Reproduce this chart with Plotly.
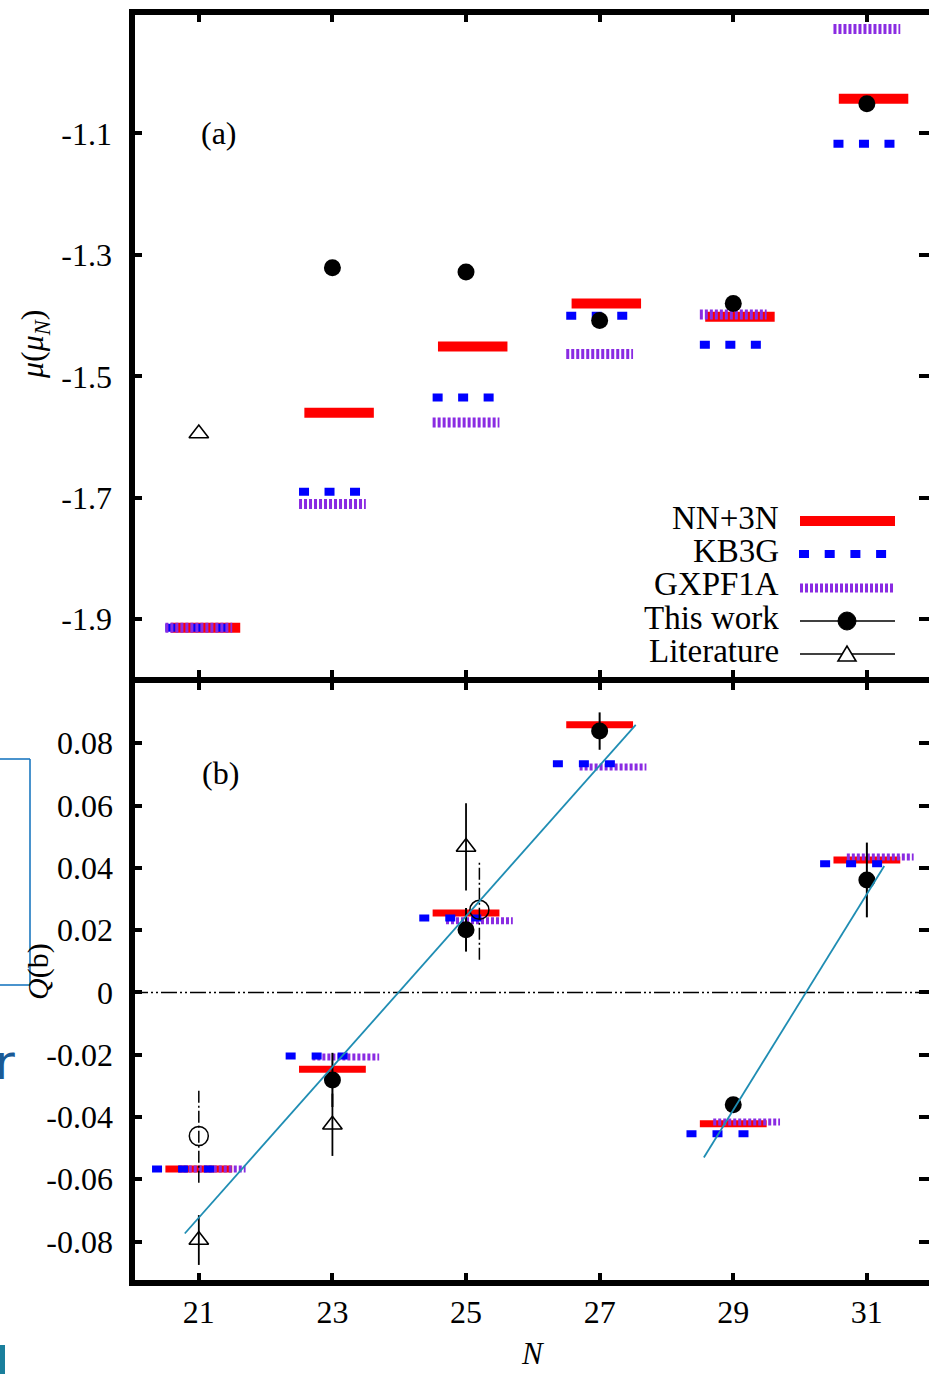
import plotly.graph_objects as go

# ---------------- data ----------------
N = [21, 23, 25, 27, 29, 31]

# panel (a): magnetic moments mu (mu_N)
mu_nn3n = [-1.914, -1.560, -1.451, -1.380, -1.402, -1.043]
mu_kb3g = [-1.914, -1.690, -1.535, -1.400, -1.448, -1.117]
mu_gxpf1a = [-1.914, -1.710, -1.576, -1.463, -1.398, -0.928]
mu_this_N = [23, 25, 27, 29, 31]
mu_this = [-1.321, -1.328, -1.408, -1.380, -1.051]
mu_lit_N = [21]
mu_lit = [-1.594]

# panel (b): quadrupole moments Q (b)
Q_nn3n = [-0.0567, -0.0247, 0.0255, 0.0859, -0.0422, 0.0425]
Q_kb3g = [-0.0567, -0.0204, 0.0239, 0.0734, -0.0454, 0.0413]
Q_gxpf1a = [-0.0567, -0.0207, 0.0230, 0.0724, -0.0416, 0.0435]
Q_this_N = [23, 25, 27, 29, 31]
Q_this = [-0.0281, 0.0201, 0.0839, -0.0361, 0.0361]
Q_this_err = [0.0087, 0.007, 0.006, 0.002, 0.012]
Q_lit_N = [21, 23, 25]
Q_lit = [-0.0795, -0.0425, 0.0467]
Q_lit_err = [0.008, 0.010, 0.014]
Q_alt_N = [21, 25.2]
Q_alt = [-0.0461, 0.0265]
Q_alt_err = [0.015, 0.016]

# hand-drawn straight guide lines over panel (b)
fit1_N = [20.79, 27.54]
fit1_Q = [-0.0774, 0.0859]
fit2_N = [28.56, 31.26]
fit2_Q = [-0.0530, 0.0406]

x_ticks = [21, 23, 25, 27, 29, 31]
x_tick_text = ["21", "23", "25", "27", "29", "31"]
mu_ticks = [-1.9, -1.7, -1.5, -1.3, -1.1]
mu_tick_text = ["-1.9", "-1.7", "-1.5", "-1.3", "-1.1"]
Q_ticks = [-0.08, -0.06, -0.04, -0.02, 0, 0.02, 0.04, 0.06, 0.08]
Q_tick_text = ["-0.08", "-0.06", "-0.04", "-0.02", "0", "0.02", "0.04", "0.06", "0.08"]

legend_labels = ["NN+3N", "KB3G", "GXPF1A", "This work", "Literature"]

# ---------------- geometry / style ----------------
W, H = 929, 1374
ML, MR, MT, MB = 132, 0, 12, 91
PW = W - ML - MR
PH = H - MT - MB
SEP_PX = 680
split = (H - MB - SEP_PX) / PH

FONT = "Liberation Serif, Times New Roman, serif"
RED = "#ff0000"
BLUE = "#0000ff"
PURPLE = "#8a2be2"
TEAL = "#1f8db3"


def px(xp):
    return (xp - ML) / PW


def py(yp):
    return (H - MB - yp) / PH


def segs(xs, ys, lo, hi):
    sx, sy = [], []
    for x, y in zip(xs, ys):
        sx += [x + lo, x + hi, None]
        sy += [y, y, None]
    return sx, sy


def vbars(xs, ys, es):
    sx, sy = [], []
    for x, y, e in zip(xs, ys, es):
        sx += [x, x, None]
        sy += [y - e, y + e, None]
    return sx, sy


fig = go.Figure()

# ---- panel (a) ----
x, y = segs(N, mu_nn3n, -0.42, 0.62)
fig.add_trace(go.Scatter(x=x, y=y, mode="lines", xaxis="x2", yaxis="y2",
                         line=dict(color=RED, width=10), hoverinfo="skip"))
x, y = segs(N, mu_kb3g, -0.5, 0.5)
fig.add_trace(go.Scatter(x=x, y=y, mode="lines", xaxis="x2", yaxis="y2",
                         line=dict(color=BLUE, width=8, dash="10px,15.5px"), hoverinfo="skip"))
x, y = segs(N, mu_gxpf1a, -0.5, 0.5)
fig.add_trace(go.Scatter(x=x, y=y, mode="lines", xaxis="x2", yaxis="y2",
                         line=dict(color=PURPLE, width=10, dash="3px,2px"), hoverinfo="skip"))
fig.add_trace(go.Scatter(x=mu_this_N, y=mu_this, mode="markers", xaxis="x2", yaxis="y2",
                         marker=dict(symbol="circle", size=17, color="black")))
fig.add_trace(go.Scatter(x=mu_lit_N, y=mu_lit, mode="markers", xaxis="x2", yaxis="y2",
                         marker=dict(symbol="triangle-up-open", size=17, color="black",
                                     line=dict(width=1.6, color="black"))))

# ---- panel (b) ----
x, y = segs(N, Q_nn3n, -0.5, 0.5)
fig.add_trace(go.Scatter(x=x, y=y, mode="lines", xaxis="x", yaxis="y",
                         line=dict(color=RED, width=7), hoverinfo="skip"))
x, y = segs(N, Q_gxpf1a, -0.3, 0.7)
fig.add_trace(go.Scatter(x=x, y=y, mode="lines", xaxis="x", yaxis="y",
                         line=dict(color=PURPLE, width=7, dash="3px,2px"), hoverinfo="skip"))
x, y = segs(N, Q_kb3g, -0.7, 0.3)
fig.add_trace(go.Scatter(x=x, y=y, mode="lines", xaxis="x", yaxis="y",
                         line=dict(color=BLUE, width=7, dash="10px,16px"), hoverinfo="skip"))
x, y = vbars(Q_alt_N, Q_alt, Q_alt_err)
fig.add_trace(go.Scatter(x=x, y=y, mode="lines", xaxis="x", yaxis="y",
                         line=dict(color="black", width=1.5, dash="12px,3px,2px,3px"), hoverinfo="skip"))
fig.add_trace(go.Scatter(x=Q_alt_N, y=Q_alt, mode="markers", xaxis="x", yaxis="y",
                         marker=dict(symbol="circle-open", size=19, color="black",
                                     line=dict(width=1.5, color="black"))))
fig.add_trace(go.Scatter(x=Q_lit_N, y=Q_lit, mode="markers", xaxis="x", yaxis="y",
                         error_y=dict(type="data", array=Q_lit_err, color="black",
                                      thickness=1.8, width=0),
                         marker=dict(symbol="triangle-up-open", size=17, color="black",
                                     line=dict(width=1.6, color="black"))))
fig.add_trace(go.Scatter(x=Q_this_N, y=Q_this, mode="markers", xaxis="x", yaxis="y",
                         error_y=dict(type="data", array=Q_this_err, color="black",
                                      thickness=2, width=0),
                         marker=dict(symbol="circle", size=17, color="black")))
fig.add_trace(go.Scatter(x=fit1_N, y=fit1_Q, mode="lines", xaxis="x", yaxis="y",
                         line=dict(color=TEAL, width=1.8), hoverinfo="skip"))
fig.add_trace(go.Scatter(x=fit2_N, y=fit2_Q, mode="lines", xaxis="x", yaxis="y",
                         line=dict(color=TEAL, width=1.8), hoverinfo="skip"))

tickfont = dict(family=FONT, size=32, color="black")
axis_common = dict(ticks="inside", ticklen=10, tickwidth=4, tickcolor="black",
                   mirror="ticks", showline=False, showgrid=False, zeroline=False,
                   tickfont=tickfont)

fig.update_layout(
    width=W, height=H,
    margin=dict(l=ML, r=MR, t=MT, b=MB),
    paper_bgcolor="white", plot_bgcolor="white",
    showlegend=False,
    xaxis=dict(domain=[0, 1], anchor="y", range=[20, 31.93],
               tickvals=x_ticks, ticktext=x_tick_text, ticklabelstandoff=7, **axis_common),
    yaxis=dict(domain=[0, split], anchor="x", range=[-0.0933, 0.1003],
               tickvals=Q_ticks, ticktext=Q_tick_text, ticklabelstandoff=18, **axis_common),
    xaxis2=dict(domain=[0, 1], anchor="y2", matches="x", showticklabels=False,
                tickvals=x_ticks, **axis_common),
    yaxis2=dict(domain=[split, 1], anchor="x2", range=[-2.0, -0.9],
                tickvals=mu_ticks, ticktext=mu_tick_text, ticklabelstandoff=19, **axis_common),
)

shapes = []
# frame (no right edge: it lies just outside the picture)
fw = 6
shapes.append(dict(type="line", xref="paper", yref="paper", x0=0, x1=0,
                   y0=py(1283 + 3), y1=py(12 - 3), line=dict(color="black", width=fw)))
for yy in (12, SEP_PX, 1283):
    shapes.append(dict(type="line", xref="paper", yref="paper", x0=px(129), x1=1.02,
                       y0=py(yy), y1=py(yy), line=dict(color="black", width=fw)))
# zero line in panel (b)
shapes.append(dict(type="line", xref="x domain", yref="y", x0=0, x1=1, y0=0, y1=0,
                   line=dict(color="black", width=1.5, dash="16px,3px,2px,3px,2px,3px"),
                   layer="below"))

# manual legend samples
shapes.append(dict(type="line", xref="paper", yref="paper", x0=px(800), x1=px(895),
                   y0=py(521), y1=py(521), line=dict(color=RED, width=10)))
shapes.append(dict(type="line", xref="paper", yref="paper", x0=px(799), x1=px(888),
                   y0=py(554), y1=py(554), line=dict(color=BLUE, width=8, dash="10px,15.7px")))
shapes.append(dict(type="line", xref="paper", yref="paper", x0=px(800), x1=px(895),
                   y0=py(588), y1=py(588), line=dict(color=PURPLE, width=9, dash="3px,2px")))
shapes.append(dict(type="line", xref="paper", yref="paper", x0=px(800), x1=px(895),
                   y0=py(621), y1=py(621), line=dict(color="black", width=1.5)))
shapes.append(dict(type="circle", xref="paper", yref="paper", x0=px(838), x1=px(856),
                   y0=py(630), y1=py(612), fillcolor="black", line=dict(color="black", width=1)))
shapes.append(dict(type="line", xref="paper", yref="paper", x0=px(800), x1=px(895),
                   y0=py(654), y1=py(654), line=dict(color="black", width=1.5)))
tri = "M {:.5f},{:.5f} L {:.5f},{:.5f} L {:.5f},{:.5f} Z".format(
    px(838), py(661), px(856), py(661), px(847), py(646))
shapes.append(dict(type="path", xref="paper", yref="paper", path=tri,
                   fillcolor="white", line=dict(color="black", width=1.6)))

# screenshot artefacts at the left edge
ART = "#1c78c0"
shapes.append(dict(type="line", xref="paper", yref="paper", x0=px(30), x1=px(30),
                   y0=py(759), y1=py(985), line=dict(color=ART, width=1.6)))
for yy in (759, 985):
    shapes.append(dict(type="line", xref="paper", yref="paper", x0=px(-2), x1=px(30),
                       y0=py(yy), y1=py(yy), line=dict(color=ART, width=1.6)))
shapes.append(dict(type="rect", xref="paper", yref="paper", x0=px(-2), x1=px(5),
                   y0=py(1376), y1=py(1345), fillcolor="#1a7f9c", line=dict(width=0)))
fig.update_layout(shapes=shapes)

ann = []
legend_y = [518, 551, 584, 618, 651]
for lab, yy in zip(legend_labels, legend_y):
    ann.append(dict(text=lab, xref="paper", yref="paper", x=px(781), y=py(yy),
                    xanchor="right", yanchor="middle", showarrow=False,
                    font=dict(family=FONT, size=33, color="black")))
ann.append(dict(text="(a)", xref="paper", yref="paper", x=px(219), y=py(133),
                xanchor="center", yanchor="middle", showarrow=False,
                font=dict(family=FONT, size=32, color="black")))
ann.append(dict(text="(b)", xref="paper", yref="paper", x=px(220), y=py(773),
                xanchor="center", yanchor="middle", showarrow=False,
                font=dict(family=FONT, size=32, color="black")))
ann.append(dict(text="<i>μ</i>(<i>μ<sub>N</sub></i>)", xref="paper", yref="paper",
                x=px(35), y=py(345), textangle=-90, xanchor="center", yanchor="middle",
                showarrow=False, font=dict(family=FONT, size=32, color="black")))
ann.append(dict(text="<i>Q</i>(b)", xref="paper", yref="paper",
                x=px(38), y=py(972), textangle=-90, xanchor="center", yanchor="middle",
                showarrow=False, font=dict(family=FONT, size=30, color="black")))
ann.append(dict(text="<i>N</i>", xref="paper", yref="paper", x=px(533), y=py(1373),
                xanchor="center", yanchor="bottom", showarrow=False,
                font=dict(family=FONT, size=31, color="black")))
ann.append(dict(text="r", xref="paper", yref="paper", x=px(-7), y=py(1062),
                xanchor="left", yanchor="middle", showarrow=False,
                font=dict(family="DejaVu Sans, sans-serif", size=48, color="#1a5a96")))
fig.update_layout(annotations=ann)

fig.write_html("out.html")
